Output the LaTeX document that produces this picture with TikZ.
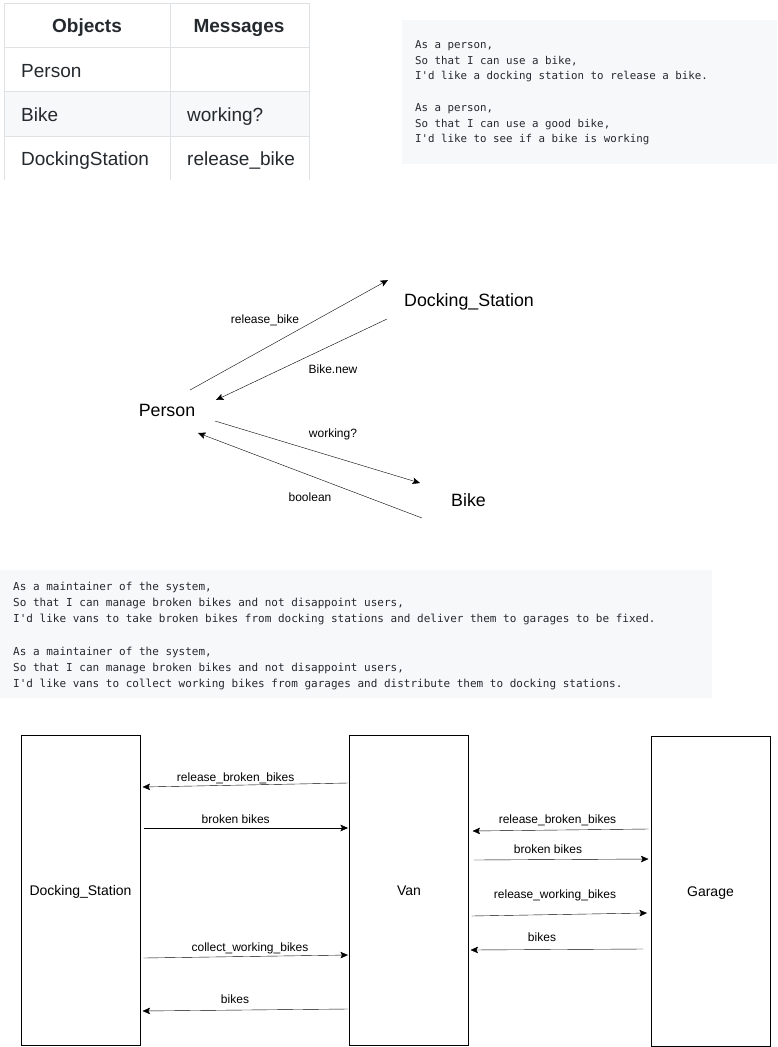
\documentclass[tikz,border=0pt]{standalone}
\usepackage{fontspec}
\setmainfont{Liberation Sans}
\setmonofont{DejaVu Sans Mono}
\usepackage{tikz}
\usetikzlibrary{positioning, arrows.meta}

\definecolor{ghtext}{HTML}{24292E}
\definecolor{ghgrid}{HTML}{DFE2E5}
\definecolor{ghrow}{HTML}{F6F8FA}

\tikzset{
  cell/.style={anchor=base west, inner sep=0pt, text=ghtext, font=\fontsize{19}{23}\selectfont},
  head/.style={anchor=base, inner sep=0pt, text=ghtext, font=\fontsize{19}{23}\selectfont\bfseries},
  codeline/.style={anchor=base west, inner sep=0pt, text=ghtext, font=\ttfamily\fontsize{10.8}{16}\selectfont},
  codelinewide/.style={codeline, font=\ttfamily\fontsize{11}{16}\selectfont},
  obj/.style={inner sep=0pt, text height=0.72em, text depth=0pt, font=\fontsize{17.8}{21}\selectfont},
  msg/.style={inner sep=0pt, text height=0.72em, text depth=0pt, font=\fontsize{12}{14}\selectfont},
  lane/.style={draw, line width=1pt, minimum width=119, minimum height=310, inner sep=0pt,
    text height=1em, text depth=0pt, font=\fontsize{14}{17}\selectfont},
}

\begin{document}
\begin{tikzpicture}[x=1pt, y=-1pt, >={Stealth[length=7.5pt, width=6.5pt, inset=1.5pt]}]
    \useasboundingbox (0,0) rectangle (777,1047);

    % objects / messages table
    \fill[ghrow] (4,91) rectangle (309,136);
    \foreach \y in {3,47,91,136}
        \draw[ghgrid, line width=1pt] (4,\y) -- (309,\y);
    \foreach \x in {4,170,309}
        \draw[ghgrid, line width=1pt] (\x,3) -- (\x,180);
    \node[head] (hobj) at (87,32) {Objects};
    \node[head] (hmsg) at (239,32) {Messages};
    \node[cell] (tperson) at (21,77) {Person};
    \node[cell] (tbike) at (21,121) {Bike};
    \node[cell] (tdock) at (21,165) {DockingStation};
    \node[cell] (tworking) at (187,121) {working?};
    \node[cell] (trelease) at (187,165) {release\_bike};

    % user stories
    \fill[ghrow] (402,20) rectangle (777,164);
    \foreach \i/\t in {1/{As a person,}, 2/{So that I can use a bike,},
        3/{I'd like a docking station to release a bike.}, 5/{As a person,},
        6/{So that I can use a good bike,}, 7/{I'd like to see if a bike is working}}
        \node[codeline] (storyA-\i) at (415, 32.8+15.7*\i) {\t};

    % person - docking station - bike
    \node[obj] (person) at (167,413) {Person};
    \node[obj] (dock) at (469,303) {Docking\_Station};
    \node[obj] (bike) at (468.5,503) {Bike};

    \draw [->] ([shift={(23,-23)}]person.center) -- ([shift={(-81,-23)}]dock.center);
    \draw [->] ([shift={(-82,16)}]dock.center) -- ([shift={(49,-13)}]person.center);
    \draw [->] ([shift={(48,8)}]person.center) -- ([shift={(-48.5,-20)}]bike.center);
    \draw [->] ([shift={(-46.5,15)}]bike.center) -- ([shift={(31,20)}]person.center);

    \node[msg] (lrelease) at (265,320) {release\_bike};
    \node[msg] (lnew) at (333,370) {Bike.new};
    \node[msg] (lworking) at (333,434) {working?};
    \node[msg] (lbool) at (310,498) {boolean};

    % maintainer stories
    \fill[ghrow] (0,570) rectangle (712,698);
    \foreach \i/\t in {1/{As a maintainer of the system,},
        2/{So that I can manage broken bikes and not disappoint users,},
        3/{I'd like vans to take broken bikes from docking stations and deliver them to garages to be fixed.},
        5/{As a maintainer of the system,},
        6/{So that I can manage broken bikes and not disappoint users,},
        7/{I'd like vans to collect working bikes from garages and distribute them to docking stations.}}
        \node[codelinewide] (storyB-\i) at (13, 573.7+16.3*\i) {\t};

    % docking station - van - garage
    \node[lane] (dockbox) at (80.5,890) {Docking\_Station};
    \node[lane] (van) at (409,890) {Van};
    \node[lane] (garage) at (710.5,891.5) {Garage};

    \draw [->] ([shift={(-1,-107)}]van.west) -- ([shift={(2,-103)}]dockbox.east);
    \draw [->] ([shift={(3,-62)}]dockbox.east) -- ([shift={(-1,-62)}]van.west);
    \draw [->] ([shift={(3,68)}]dockbox.east) -- ([shift={(-1,65)}]van.west);
    \draw [->] ([shift={(-1,119)}]van.west) -- ([shift={(2,121)}]dockbox.east);

    \draw [->] ([shift={(-2,-62.5)}]garage.west) -- ([shift={(3.5,-59)}]van.east);
    \draw [->] ([shift={(4.5,-30)}]van.east) -- ([shift={(-2,-32.5)}]garage.west);
    \draw [->] ([shift={(2.5,26)}]van.east) -- ([shift={(-3.5,21.5)}]garage.west);
    \draw [->] ([shift={(-7.5,57.5)}]garage.west) -- ([shift={(1.5,60)}]van.east);

    \node[msg] (lrbb1) at (235.7,777.5) {release\_broken\_bikes};
    \node[msg] (lbb1) at (235.7,820) {broken bikes};
    \node[msg] (lcwb) at (250,947.5) {collect\_working\_bikes};
    \node[msg] (lbk1) at (235,1000) {bikes};
    \node[msg] (lrbb2) at (557.5,820) {release\_broken\_bikes};
    \node[msg] (lbb2) at (548,850) {broken bikes};
    \node[msg] (lrwb) at (555,895) {release\_working\_bikes};
    \node[msg] (lbk2) at (542,938) {bikes};
\end{tikzpicture}
\end{document}
